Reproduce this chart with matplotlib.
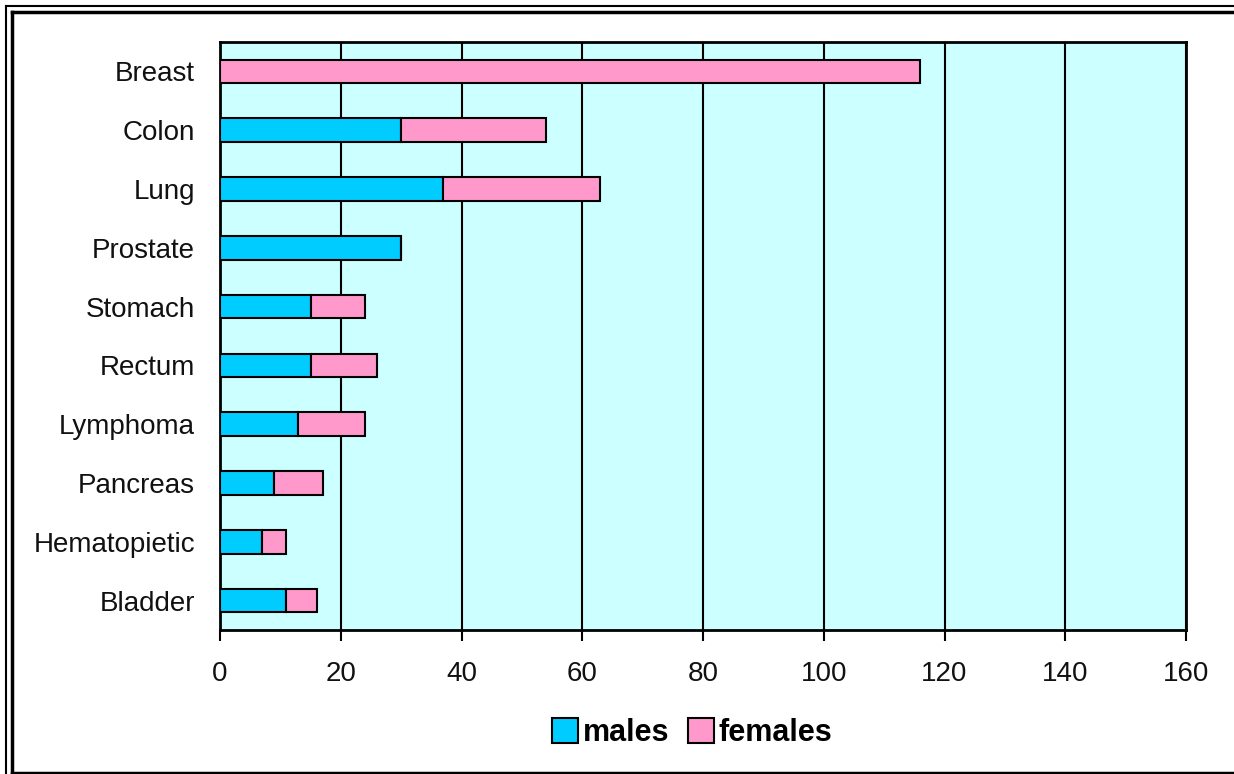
import matplotlib
matplotlib.use("Agg")
import matplotlib.pyplot as plt
from matplotlib.lines import Line2D
from matplotlib.patches import Patch

categories = ["Breast", "Colon", "Lung", "Prostate", "Stomach", "Rectum",
              "Lymphoma", "Pancreas", "Hematopietic", "Bladder"]
males = [0, 30, 37, 30, 15, 15, 13, 9, 7, 11]
females = [116, 24, 26, 0, 9, 11, 11, 8, 4, 5]
xticks = [0, 20, 40, 60, 80, 100, 120, 140, 160]

W, H = 1234, 774
fig = plt.figure(figsize=(W / 100, H / 100), dpi=100)
ax = fig.add_axes([220 / W, 1 - 630 / H, (1186 - 220) / W, (630 - 42) / H])
ax.set_facecolor("#CCFFFF")

ypos = list(range(len(categories)))
male_col = "#00CCFF"
fem_col = "#FF99CC"
ax.barh(ypos, males, height=0.4, color=male_col, edgecolor="black", linewidth=1.5, zorder=3)
ax.barh(ypos, females, left=males, height=0.4, color=fem_col, edgecolor="black", linewidth=1.5, zorder=3)

ax.set_ylim(len(categories) - 0.5, -0.5)
ax.set_xlim(0, 160)
ax.set_xticks(xticks)
ax.set_xticklabels([str(t) for t in xticks], fontsize=20, family="Liberation Sans", color="#111111")
ax.set_yticks(ypos)
ax.set_yticklabels(categories, fontsize=20, family="Liberation Sans", color="#111111")
ax.tick_params(axis="y", length=0, pad=18)
ax.tick_params(axis="x", direction="out", length=8, width=1.5, pad=14)
ax.grid(axis="x", color="black", linewidth=1.5, zorder=1)
for s in ax.spines.values():
    s.set_linewidth(2)

handles = [Patch(facecolor=male_col, edgecolor="black", linewidth=1.5, label="males"),
           Patch(facecolor=fem_col, edgecolor="black", linewidth=1.5, label="females")]
fig.legend(handles=handles, loc="center", bbox_to_anchor=(692 / W, 1 - 733 / H),
           ncol=2, frameon=False, prop={"family": "Liberation Sans", "weight": "bold", "size": 22},
           handlelength=0.85, handleheight=0.85, handletextpad=0.15, columnspacing=0.6)

# outer double frame (extends beyond the right and bottom edges)
def fline(x0, y0, x1, y1, lw):
    fig.add_artist(Line2D([x0 / W, x1 / W], [1 - y0 / H, 1 - y1 / H], transform=fig.transFigure,
                          color="black", linewidth=lw, solid_capstyle="projecting"))

fline(5.5, 6, 5.5, 780, 1.5)
fline(5.5, 6, 1240, 6, 1.5)
fline(11.5, 11.5, 11.5, 772.5, 2.5)
fline(11.5, 11.5, 1240, 11.5, 2.5)
fline(11.5, 772.5, 1240, 772.5, 2.5)

fig.savefig("out.png", dpi=100)
